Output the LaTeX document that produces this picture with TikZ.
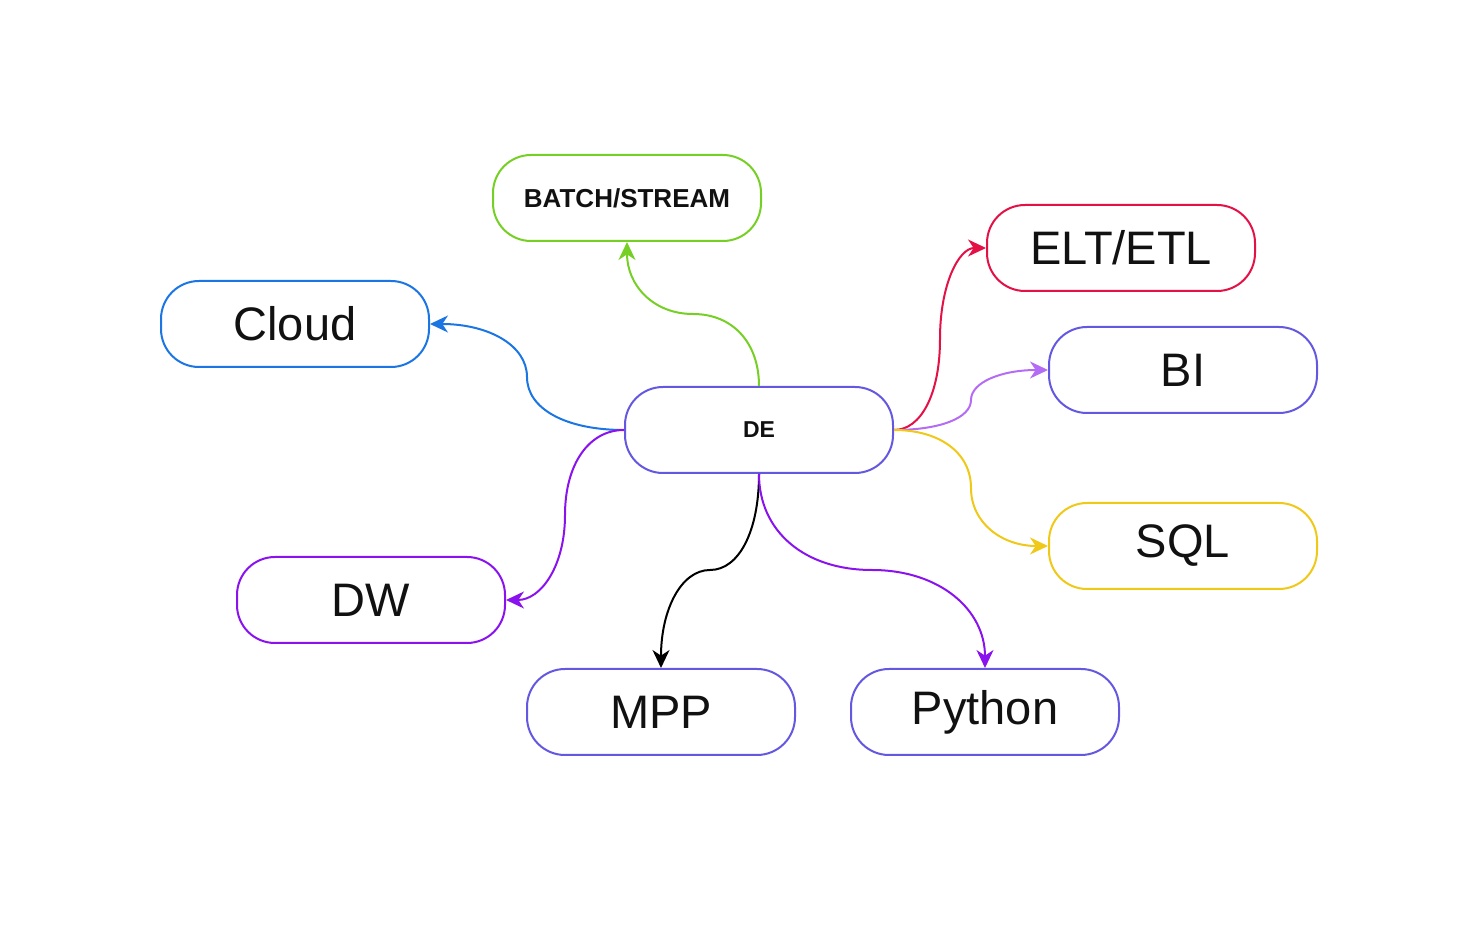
\documentclass[tikz,border=0pt]{standalone}
\usepackage{fontspec}
\setmainfont{Liberation Sans}
\usetikzlibrary{arrows.meta}
\definecolor{cgreen}{HTML}{76CF25}
\definecolor{cblue}{HTML}{1B75E3}
\definecolor{cred}{HTML}{E31146}
\definecolor{cindigo}{HTML}{6458E0}
\definecolor{clilac}{HTML}{B46CF5}
\definecolor{cyellow}{HTML}{F0C918}
\definecolor{cpurple}{HTML}{8A12EE}
\definecolor{ctext}{HTML}{111111}
\tikzset{
  box/.style={rectangle, rounded corners=19pt, minimum width=134pt, minimum height=43pt,
    inner sep=0pt, line width=1pt, draw=#1, fill=white, text=ctext},
  bigtxt/.style={font=\fontsize{23.5}{28}\selectfont},
  smalltxt/.style={font=\fontsize{13}{15}\selectfont\bfseries},
  edge/.style={line width=1pt, draw=#1, -{Stealth[length=9pt,width=8.5pt,inset=2.8pt]}}
}
\begin{document}
\begin{tikzpicture}[x=0.5pt,y=-0.5pt]
\useasboundingbox (0,0) rectangle (1478,945);
\node[box=cgreen, smalltxt] (bs) at (627,198) {BATCH/STREAM};
\node[box=cblue, bigtxt] (cloud) at (295,324) {Cloud};
\node[box=cred, bigtxt] (elt) at (1121,248) {ELT/ETL};
\node[box=cindigo, bigtxt] (bi) at (1183,370) {BI};
\node[box=cindigo, font=\fontsize{11.5}{14}\selectfont\bfseries] (de) at (759,430) {DE};
\node[box=cyellow, bigtxt] (sql) at (1183,546) {SQL};
\node[box=cpurple, bigtxt] (dw) at (371,600) {DW};
\node[box=cindigo, bigtxt] (mpp) at (661,712) {MPP};
\node[box=cindigo, bigtxt] (py) at (985,712) {Python};

\draw[edge=cgreen] (de.north) .. controls (759,343) and (733,314) .. (693,314)
  .. controls (653,314) and (627,285) .. (bs.south);
\draw[edge=cblue] (de.west) .. controls (566,430) and (527,409) .. (527,377)
  .. controls (527,345) and (488,324) .. (cloud.east);
\draw[edge=cred] (de.east) .. controls (921,430) and (940,394) .. (940,339)
  .. controls (940,284) and (959,248) .. (elt.west);
\draw[edge=clilac] (de.east) .. controls (940,430) and (971,418) .. (971,400)
  .. controls (971,382) and (1002,370) .. (bi.west);
\draw[edge=cyellow] (de.east) .. controls (940,430) and (971,453) .. (971,488)
  .. controls (971,523) and (1002,546) .. (sql.west);
\draw[edge=cpurple] (de.west) .. controls (589,430) and (565,464) .. (565,515)
  .. controls (565,566) and (541,600) .. (dw.east);
\draw[edge=black] (de.south) .. controls (759,531) and (739,570) .. (710,570)
  .. controls (681,570) and (661,610) .. (mpp.north);
\draw[edge=cpurple] (de.south) .. controls (759,531) and (804,570) .. (872,570)
  .. controls (940,570) and (985,610) .. (py.north);
\end{tikzpicture}
\end{document}
